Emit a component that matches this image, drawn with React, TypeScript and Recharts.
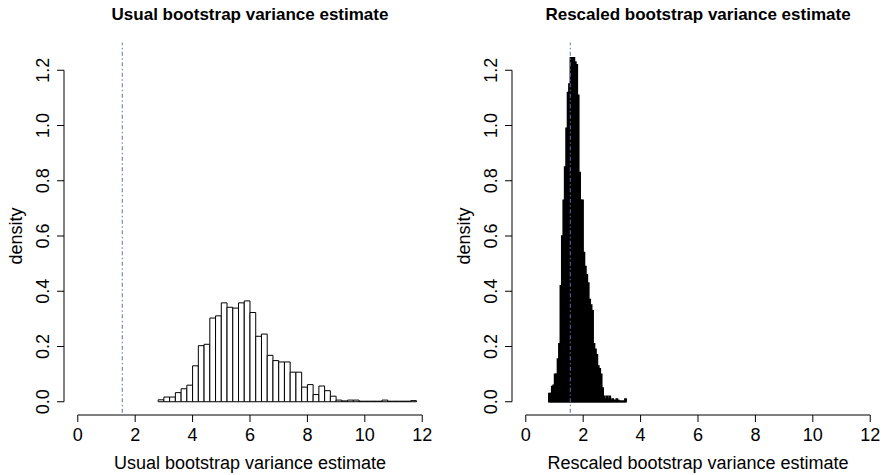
import React from 'react';
import { ComposedChart, Bar, XAxis, YAxis, ReferenceLine } from 'recharts';

const FONT = '"Liberation Sans", Arial, Helvetica, sans-serif';

const xTicks = [0, 2, 4, 6, 8, 10, 12];
const yTicks = [0, 0.2, 0.4, 0.6, 0.8, 1.0, 1.2];
const trueVariance = 1.55;

// usual bootstrap: bins of 0.2 starting at 2.8
const usualStart = 2.8;
const usualWidth = 0.2;
const usualDensity = [
  0.007, 0.017, 0.017, 0.033, 0.047, 0.06, 0.13, 0.203, 0.208, 0.303,
  0.311, 0.358, 0.342, 0.339, 0.358, 0.365, 0.323, 0.237, 0.245, 0.168,
  0.149, 0.144, 0.144, 0.107, 0.107, 0.053, 0.062, 0.026, 0.057, 0.04,
  0.02, 0.006, 0.003, 0.006, 0.006, 0.002, 0.002, 0.002, 0.002, 0.006,
  0.002, 0.002, 0.002, 0.002, 0.004,
];

// rescaled bootstrap: bins of 0.05 starting at 0.8
const rescaledStart = 0.8;
const rescaledWidth = 0.05;
const rescaledDensity = [
  0.03, 0.03, 0.055, 0.06, 0.1, 0.1, 0.155, 0.21, 0.42, 0.6,
  0.73, 0.85, 0.99, 1.12, 1.15, 1.25, 1.26, 1.26, 1.23, 1.22,
  1.11, 0.83, 0.73, 0.73, 0.54, 0.49, 0.46, 0.43, 0.37, 0.35,
  0.33, 0.21, 0.19, 0.17, 0.13, 0.12, 0.1, 0.05, 0.02, 0.01,
  0.02, 0.01, 0.02, 0.005, 0.01, 0.005, 0.005, 0.01, 0.005, 0.002,
  0.002, 0.002, 0.002, 0.01,
];

const X_DOMAIN: [number, number] = [-0.48, 12.48];
const Y_DOMAIN: [number, number] = [-0.048, 1.248];
const PANEL_W = 443;
const HEIGHT = 475;
const TOP = 57;
const XAXIS_H = 60;
const PLOT_W = 372;

const toBins = (start: number, width: number, dens: number[]) =>
  dens.map((d, i) => ({ mid: start + (i + 0.5) * width, density: d }));

const XTick = (props: any) => {
  const { x, y, payload } = props;
  return (
    <text x={x} y={y + 17} textAnchor="middle" fontSize={18} fill="#000" fontFamily={FONT}>
      {payload.value}
    </text>
  );
};

const YTick = (props: any) => {
  const { x, y, payload } = props;
  const cx = x - 12;
  return (
    <text
      x={cx}
      y={y}
      dy="0.36em"
      transform={`rotate(-90, ${cx}, ${y})`}
      textAnchor="middle"
      fontSize={18}
      fill="#000"
      fontFamily={FONT}
    >
      {Number(payload.value).toFixed(1)}
    </text>
  );
};

interface PanelProps {
  data: { mid: number; density: number }[];
  binWidth: number;
  plotLeft: number;
  fill: string;
  strokeW: number;
}

const Panel: React.FC<PanelProps> = ({ data, binWidth, plotLeft, fill, strokeW }) => {
  const barPx = (PLOT_W / (X_DOMAIN[1] - X_DOMAIN[0])) * binWidth - 0.01;
  return (
    <ComposedChart
      width={PANEL_W}
      height={HEIGHT}
      data={data}
      margin={{ top: TOP, right: PANEL_W - plotLeft - PLOT_W, bottom: 0, left: 0 }}
      barCategoryGap={0}
      barGap={0}
    >
      <XAxis
        type="number"
        dataKey="mid"
        domain={X_DOMAIN}
        ticks={xTicks}
        interval={0}
        allowDataOverflow
        axisLine={false}
        tickSize={7}
        tickLine={{ stroke: '#000' }}
        tick={<XTick />}
        height={XAXIS_H}
      />
      <YAxis
        type="number"
        domain={Y_DOMAIN}
        ticks={yTicks}
        interval={0}
        allowDataOverflow
        axisLine={false}
        tickSize={7}
        tickLine={{ stroke: '#000' }}
        tick={<YTick />}
        width={plotLeft}
      />
      <Bar
        dataKey="density"
        fill={fill}
        stroke="#000"
        strokeWidth={strokeW}
        barSize={barPx}
        isAnimationActive={false}
      />
      <ReferenceLine
        segment={[{ x: 0, y: Y_DOMAIN[0] }, { x: 12, y: Y_DOMAIN[0] }]}
        stroke="#000"
        ifOverflow="visible"
      />
      <ReferenceLine
        segment={[{ x: X_DOMAIN[0], y: 0 }, { x: X_DOMAIN[0], y: 1.2 }]}
        stroke="#000"
        ifOverflow="visible"
      />
      <ReferenceLine
        segment={[{ x: trueVariance, y: -0.04 }, { x: trueVariance, y: 1.3 }]}
        stroke="#5f6cc0"
        strokeDasharray="4 2.5 1.5 2.5"
        ifOverflow="visible"
      />
    </ComposedChart>
  );
};

const App: React.FC = () => {
  const usual = toBins(usualStart, usualWidth, usualDensity);
  const rescaled = toBins(rescaledStart, rescaledWidth, rescaledDensity);
  const leftCenter = 64 + PLOT_W / 2;
  const rightCenter = PANEL_W + 69 + PLOT_W / 2;
  const midY = TOP + (HEIGHT - XAXIS_H - TOP) / 2;

  return (
    <div
      style={{
        position: 'absolute',
        left: 0,
        top: 0,
        width: 886,
        height: HEIGHT,
        background: '#fff',
        display: 'flex',
      }}
    >
      <Panel data={usual} binWidth={usualWidth} plotLeft={64} fill="#fff" strokeW={1} />
      <Panel data={rescaled} binWidth={rescaledWidth} plotLeft={69} fill="#000" strokeW={1.4} />
      <svg
        width={886}
        height={HEIGHT}
        style={{ position: 'absolute', left: 0, top: 0, pointerEvents: 'none' }}
        fontFamily={FONT}
      >
        <text x={leftCenter} y={19.5} textAnchor="middle" fontSize={17} fontWeight="bold" fill="#000">
          Usual bootstrap variance estimate
        </text>
        <text x={rightCenter} y={19.5} textAnchor="middle" fontSize={17} fontWeight="bold" fill="#000">
          Rescaled bootstrap variance estimate
        </text>
        <text x={leftCenter} y={469} textAnchor="middle" fontSize={18} fill="#000">
          Usual bootstrap variance estimate
        </text>
        <text x={rightCenter} y={469} textAnchor="middle" fontSize={18} fill="#000">
          Rescaled bootstrap variance estimate
        </text>
        <text x={22} y={midY} transform={`rotate(-90, 22, ${midY})`} textAnchor="middle" fontSize={18} fill="#000">
          density
        </text>
        <text
          x={PANEL_W + 27}
          y={midY}
          transform={`rotate(-90, ${PANEL_W + 27}, ${midY})`}
          textAnchor="middle"
          fontSize={18}
          fill="#000"
        >
          density
        </text>
      </svg>
    </div>
  );
};

export default App;
